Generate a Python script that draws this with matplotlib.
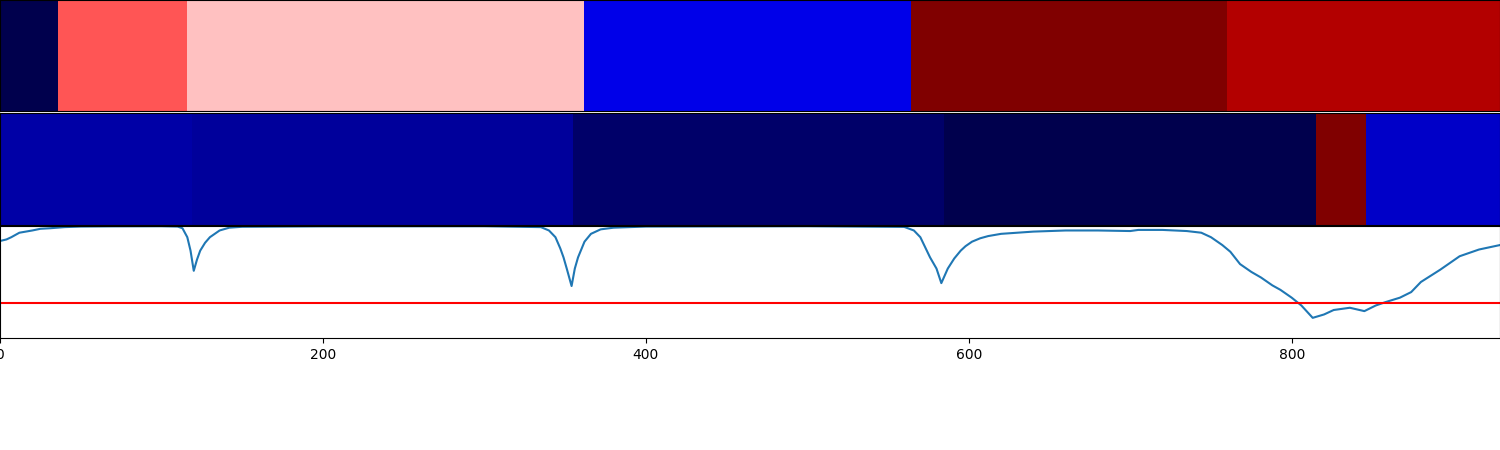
import numpy as np
import matplotlib
matplotlib.use("Agg")
import matplotlib.pyplot as plt

# Segment edges and (normalized) values for the two heat rows
row1_edges = [0, 35.9, 115.8, 361.7, 564.2, 759.9, 929]
row1_values = [0.0, 0.667, 0.559, 0.221, 1.0, 0.897]

row2_edges = [0, 118.9, 354.9, 584.7, 815.0, 846.0, 929]
row2_values = [0.128, 0.11, 0.04, 0.0, 1.0, 0.173]

# Line series
line_x = [0, 4, 7, 12, 16, 20, 25, 31, 40, 50, 70, 100,
          110, 113, 116, 118, 120, 122, 124, 127, 130, 136, 142, 150,
          200, 300, 335,
          340, 344, 347, 349, 351, 354, 356, 358, 362, 366, 372, 380, 400,
          500, 560,
          566, 570, 573, 576, 580, 583, 587, 591, 595, 598, 602, 607, 612, 620, 640,
          660, 680, 700, 705, 720, 735,
          744, 750, 757, 762, 768, 775, 781, 788, 793, 800, 806, 813, 820, 826, 836,
          845, 852, 858, 867, 874, 880, 892, 904, 916, 929]
line_y = [0.866, 0.88, 0.90, 0.94, 0.95, 0.96, 0.975, 0.98, 0.99, 0.995, 0.997, 0.998,
          0.995, 0.98, 0.90, 0.78, 0.60, 0.70, 0.78, 0.85, 0.90, 0.96, 0.985, 0.993,
          0.997, 0.998, 0.99,
          0.96, 0.90, 0.80, 0.72, 0.62, 0.464, 0.62, 0.72, 0.86, 0.93, 0.97, 0.985, 0.995,
          0.998, 0.992,
          0.96, 0.90, 0.81, 0.72, 0.62, 0.49, 0.62, 0.71, 0.78, 0.82, 0.86, 0.89, 0.91, 0.93, 0.95,
          0.96, 0.96, 0.955, 0.965, 0.965, 0.955,
          0.94, 0.90, 0.83, 0.77, 0.66, 0.59, 0.54, 0.47, 0.43, 0.36, 0.29, 0.18, 0.21, 0.25, 0.27,
          0.24, 0.29, 0.32, 0.36, 0.41, 0.50, 0.61, 0.73, 0.79, 0.83]

threshold = 0.3125
xmax = 929

fig = plt.figure(figsize=(15, 4.5), dpi=100)
h = 112 / 450
ax1 = fig.add_axes([0, 339 / 450, 1, 111 / 450])
ax2 = fig.add_axes([0, 225 / 450, 1, h])
ax3 = fig.add_axes([0, 112 / 450, 1, h])

for ax, edges, vals in [(ax1, row1_edges, row1_values), (ax2, row2_edges, row2_values)]:
    ax.pcolormesh(np.array(edges), np.array([0, 1]), np.array([vals]),
                  cmap="seismic", vmin=0, vmax=1, shading="flat")
    ax.set_xlim(0, xmax)
    ax.set_ylim(0, 1)
    ax.set_xticks([])
    ax.set_yticks([])

ax3.plot(line_x, line_y, color="C0", lw=1.5)
ax3.axhline(threshold, color="red", lw=1.5)
ax3.set_xlim(0, xmax)
ax3.set_ylim(0, 1)
ax3.set_yticks([])
ax3.set_xticks([0, 200, 400, 600, 800])

fig.savefig("out.png", dpi=100)
